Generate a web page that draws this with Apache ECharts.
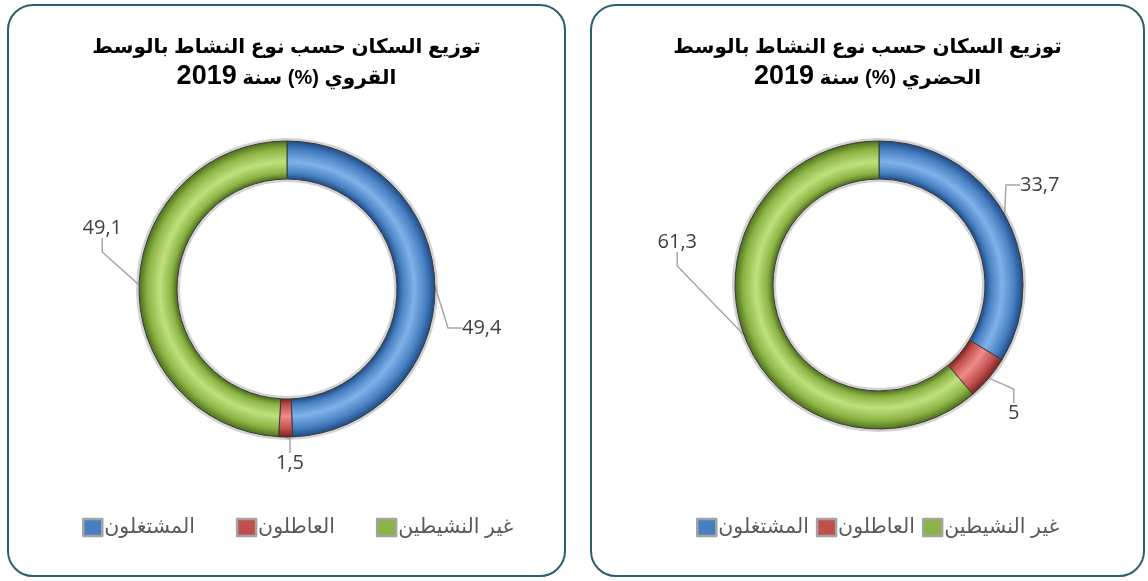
<!DOCTYPE html>
<html>
<head>
<meta charset="utf-8">
<script src="https://cdn.jsdelivr.net/npm/echarts@6/dist/echarts.min.js"></script>
<style>
  html, body { margin: 0; padding: 0; background: #fff; }
  .panel {
    position: absolute;
    box-sizing: border-box;
    border: 2px solid #2b5f6d;
    border-radius: 26px;
    background: #fff;
    overflow: hidden;
  }
  .chart { width: 100%; height: 100%; }
</style>
</head>
<body>
<div class="panel" style="left:7px;top:4px;width:559px;height:573px;">
  <div id="rural" class="chart"></div>
</div>
<div class="panel" style="left:590px;top:4px;width:555px;height:573px;">
  <div id="urban" class="chart"></div>
</div>
<script>
// categories (legend order left -> right)
const categories = ["المشتغلون", "العاطلون", "غير النشيطين"];

const ruralValues = [49.4, 1.5, 49.1];
const urbanValues = [33.7, 5, 61.3];

const titleLine1 = "توزيع السكان حسب نوع النشاط بالوسط";
const ruralLine2 = "القروي (%) سنة";
const urbanLine2 = "الحضري (%) سنة";
const titleYear = "2019";

// base, light, dark tones per category
const tones = [
  ["#4780c2", "#80b2e8", "#1f4b85"],
  ["#c0504d", "#ee8c88", "#7a2321"],
  ["#8cb444", "#c0e07c", "#4d6f1e"],
];

const FONT = "'Liberation Sans', 'DejaVu Sans', Arial, sans-serif";

function ringColor(t, cx, cy, r, inner) {
  const k = inner / r;
  return {
    type: "radial",
    x: cx, y: cy, r: r,
    global: true,
    colorStops: [
      { offset: 0, color: t[2] },
      { offset: k, color: t[2] },
      { offset: k + (1 - k) * 0.16, color: t[0] },
      { offset: k + (1 - k) * 0.45, color: t[1] },
      { offset: k + (1 - k) * 0.78, color: t[0] },
      { offset: 1, color: t[2] },
    ],
  };
}

function buildOption(line2, values, cx, cy, inner, outer, legendGap, legendLeft, labelPos) {
  const data = values.map((v, i) => ({
    name: categories[i],
    value: v,
    itemStyle: { color: ringColor(tones[i], cx, cy, outer, inner) },
  }));
  return {
    animation: false,
    title: {
      text: "{t|" + titleLine1 + "}\n{n|" + titleYear + "}{t| " + line2 + "}",
      left: "center",
      top: 21,
      textStyle: {
        rich: {
          t: {
            fontFamily: FONT,
            fontWeight: "bold",
            fontSize: 20,
            lineHeight: 31,
            color: "#000",
          },
          n: {
            fontFamily: FONT,
            fontWeight: "bold",
            fontSize: 27,
            lineHeight: 31,
            padding: [0, 0, 4, 0],
            color: "#000",
          },
        },
      },
    },
    legend: {
      bottom: 32,
      left: legendLeft,
      itemGap: legendGap,
      itemWidth: 19,
      itemHeight: 17,
      icon: "rect",
      textStyle: { fontFamily: FONT, fontSize: 20.5, color: "#595959", padding: [0, 0, 0, -3] },
      data: categories.map((c, i) => ({
        name: c,
        itemStyle: { color: tones[i][0], borderColor: "#a3a3a3", borderWidth: 2.5 },
      })),
    },
    series: [
      {
        // grey rim behind the ring
        type: "pie",
        silent: true,
        center: [cx, cy],
        radius: [inner - 3, outer + 3],
        label: { show: false },
        labelLine: { show: false },
        itemStyle: { color: "#d2d2d2" },
        data: [{ value: 1, name: "" }],
        z: 1,
      },
      {
        type: "pie",
        center: [cx, cy],
        radius: [inner, outer],
        startAngle: 90,
        clockwise: true,
        itemStyle: { borderColor: "#3a3a3a", borderWidth: 1 },
        label: {
          formatter: (p) => String(p.value).replace(".", ","),
          fontFamily: "'Open Sans', sans-serif",
          fontSize: 20,
          color: "#404040",
        },
        labelLine: {
          length: 22,
          length2: 14,
          lineStyle: { color: "#a6a6a6", width: 1.5 },
        },
        labelLayout: (p) => {
          const l = labelPos[p.dataIndex];
          return { x: l[0], y: l[1], align: l[2], verticalAlign: "middle" };
        },
        data: data,
        z: 2,
      },
    ],
  };
}

const rural = echarts.init(document.getElementById("rural"));
rural.setOption(buildOption(ruralLine2, ruralValues, 278, 283, 110, 148, 41, 68,
  [[453, 322, "left"], [281, 457, "center"], [113, 222, "right"]]));

const urban = echarts.init(document.getElementById("urban"));
urban.setOption(buildOption(urbanLine2, urbanValues, 287, 279, 106, 144, 7, 99,
  [[428, 179, "left"], [416, 407, "left"], [105, 236, "right"]]));
</script>
</body>
</html>
